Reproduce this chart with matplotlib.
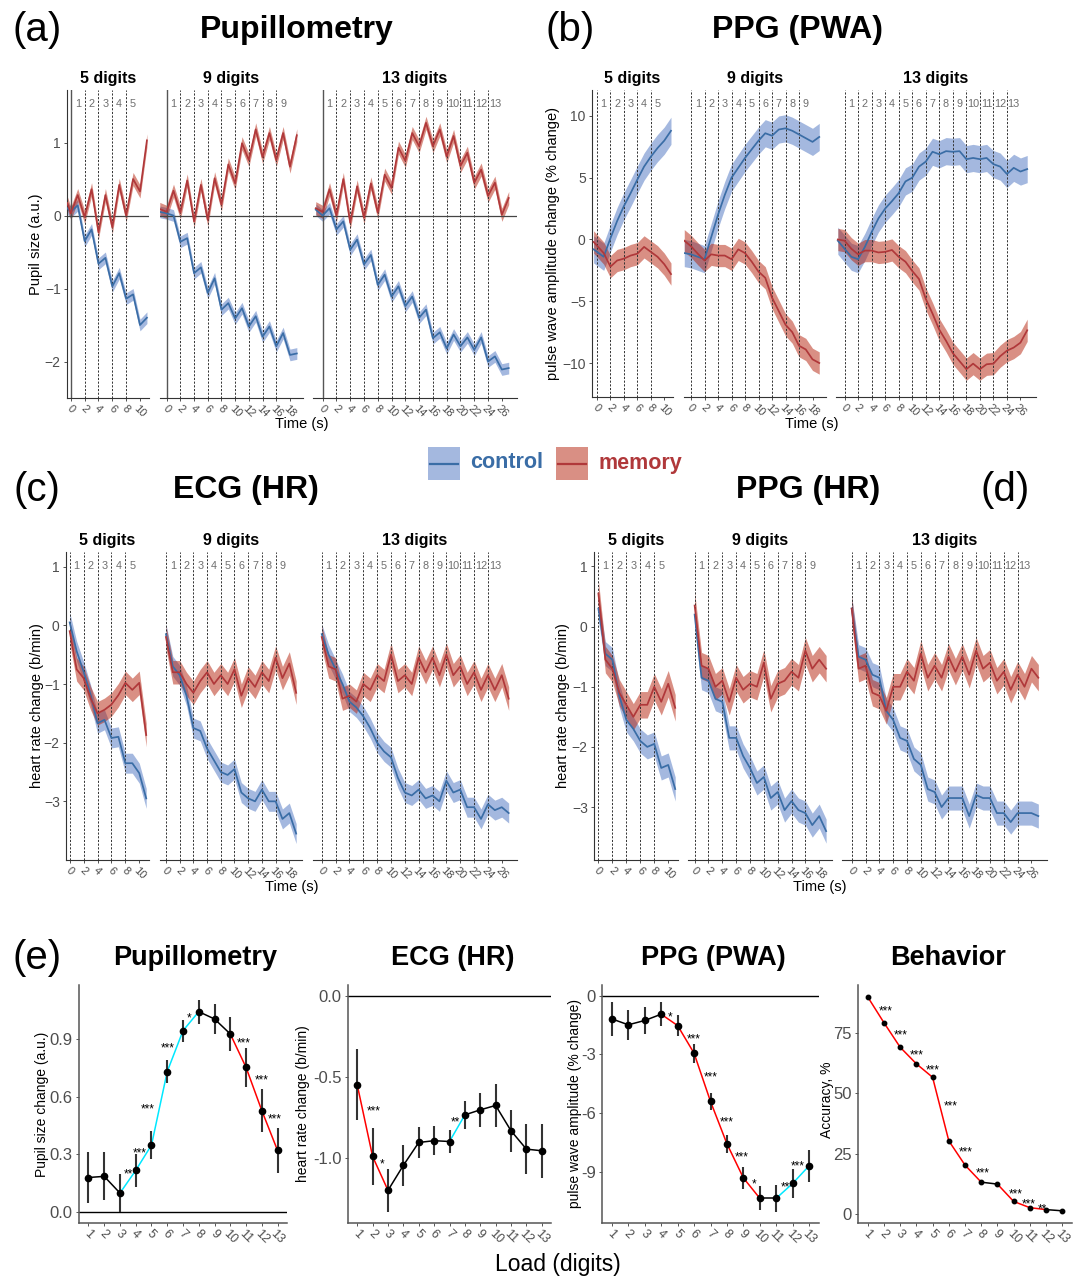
import numpy as np
import matplotlib
matplotlib.use('Agg')
import matplotlib.pyplot as plt
from matplotlib.transforms import blended_transform_factory
from matplotlib.patches import Rectangle
from matplotlib.lines import Line2D

plt.rcParams['font.family'] = ['Liberation Sans', 'DejaVu Sans']
plt.rcParams['axes.unicode_minus'] = True

W, H, DPI = 1078, 1278, 100

# ------------------------------------------------------------------ data
LOADS = [5, 9, 13]
CONDITIONS = ['control', 'memory']

# sample times (s)
t_pre5 = np.r_[-0.5, np.arange(0, 12)]
t_pre9 = np.arange(-1, 20)
t_pre13 = np.arange(-1, 28)
t_5 = np.arange(0, 12)
t_9 = np.arange(0, 20)
t_13 = np.arange(0, 28)

# (a) Pupillometry, pupil size (a.u.)
pup_ctrl_5 = [0.10, 0.05, 0.14, -0.35, -0.19, -0.66, -0.58, -0.97, -0.79, -1.14, -1.08, -1.50, -1.40]
pup_mem_5 = [0.17, 0.03, 0.28, -0.02, 0.36, -0.23, 0.28, -0.16, 0.42, 0.00, 0.50, 0.33, 1.03]
pup_ctrl_9 = [0.05, 0.03, 0.00, -0.36, -0.31, -0.79, -0.71, -1.06, -0.86, -1.29, -1.20, -1.41, -1.27,
              -1.52, -1.38, -1.66, -1.52, -1.79, -1.61, -1.91, -1.89]
pup_mem_9 = [0.09, 0.05, 0.34, 0.04, 0.48, -0.08, 0.42, -0.06, 0.51, 0.15, 0.70, 0.44, 0.99, 0.76,
             1.18, 0.80, 1.13, 0.76, 1.13, 0.67, 1.10]
pup_ctrl_13 = [0.08, 0.00, 0.10, -0.19, -0.08, -0.47, -0.33, -0.67, -0.54, -0.95, -0.81, -1.11, -0.97,
               -1.24, -1.11, -1.40, -1.29, -1.68, -1.60, -1.82, -1.63, -1.79, -1.67, -1.84, -1.67,
               -2.00, -1.93, -2.11, -2.09]
pup_mem_13 = [0.10, 0.05, 0.36, 0.00, 0.50, -0.10, 0.40, -0.03, 0.44, 0.04, 0.56, 0.38, 0.93, 0.75,
              1.13, 0.95, 1.27, 0.95, 1.18, 0.81, 1.09, 0.68, 0.86, 0.45, 0.63, 0.27, 0.45, 0.01, 0.24]
pup_se = [0.08, 0.09]

# (b) PPG pulse wave amplitude change (%)
pwa_ctrl_5 = [-0.8, -1.0, -1.4, 0.1, 1.5, 2.7, 3.75, 4.85, 5.9, 6.7, 7.4, 8.0, 8.8]
pwa_mem_5 = [-0.2, -0.5, -1.1, -2.2, -1.7, -1.55, -1.3, -1.15, -0.6, -1.0, -1.4, -2.0, -2.8]
pwa_ctrl_9 = [-1.1, -1.2, -1.4, -1.6, 0.2, 2.0, 3.6, 5.0, 5.8, 6.6, 7.3, 8.0, 8.6, 8.4, 8.9, 9.0,
              8.8, 8.5, 8.2, 7.9, 8.3]
pwa_mem_9 = [-0.1, -0.55, -1.15, -1.7, -1.2, -1.3, -1.3, -1.6, -0.8, -1.1, -1.8, -2.6, -3.1, -4.7,
             -5.8, -6.9, -7.5, -8.6, -8.9, -9.7, -10.0]
pwa_ctrl_13 = [-0.1, -0.75, -1.4, -1.6, -0.6, 0.6, 1.7, 2.5, 3.1, 3.75, 4.7, 5.0, 5.9, 6.3, 7.1, 6.9,
               7.15, 7.1, 7.15, 6.5, 6.6, 6.5, 6.6, 6.1, 5.9, 5.3, 5.8, 5.5, 5.7]
pwa_mem_13 = [0.0, -0.1, -0.75, -1.2, -0.9, -0.9, -1.05, -1.0, -0.85, -1.4, -1.8, -2.55, -3.2, -4.8,
              -6.0, -7.3, -8.2, -9.2, -9.85, -10.5, -10.05, -10.5, -10.1, -10.05, -9.45, -9.0,
              -8.75, -8.35, -7.35]
pwa_se = [1.1, 0.9]

# (c) ECG heart rate change (b/min)
ecg_ctrl_5 = [0.05, -0.44, -0.79, -1.18, -1.67, -1.61, -1.92, -1.90, -2.35, -2.35, -2.52, -2.95]
ecg_mem_5 = [-0.10, -0.75, -0.90, -1.24, -1.50, -1.44, -1.35, -1.19, -0.98, -1.10, -0.98, -1.87]
ecg_ctrl_9 = [-0.15, -0.70, -0.85, -1.20, -1.75, -1.80, -2.10, -2.30, -2.50, -2.55, -2.45, -2.85,
              -2.95, -3.00, -2.80, -3.00, -3.00, -3.30, -3.20, -3.55]
ecg_mem_9 = [-0.20, -0.80, -0.80, -1.00, -1.15, -0.95, -0.80, -1.00, -0.85, -1.00, -0.75, -1.20,
             -0.90, -1.05, -0.80, -0.95, -0.55, -0.90, -0.65, -1.15]
ecg_ctrl_13 = [-0.15, -0.50, -0.75, -1.00, -1.30, -1.40, -1.55, -1.75, -2.00, -2.15, -2.25, -2.60,
               -2.85, -2.90, -2.80, -2.95, -2.90, -3.00, -2.65, -2.85, -2.80, -3.10, -3.10, -3.30,
               -3.05, -3.15, -3.10, -3.20]
ecg_mem_13 = [-0.20, -0.70, -0.75, -1.25, -1.20, -1.30, -1.00, -1.10, -0.85, -0.95, -0.50, -0.95,
              -0.85, -1.00, -0.55, -0.80, -0.55, -0.85, -0.50, -0.85, -0.70, -1.00, -0.80, -1.10,
              -0.85, -1.10, -0.85, -1.25]
ecg_se = [0.17, 0.2]

# (d) PPG heart rate change (b/min)
ppghr_ctrl_5 = [0.30, -0.45, -0.55, -1.15, -1.55, -1.70, -1.90, -2.00, -1.95, -2.35, -2.30, -2.70]
ppghr_mem_5 = [0.55, -0.55, -0.70, -1.10, -1.30, -1.50, -1.30, -1.30, -1.00, -1.25, -0.95, -1.35]
ppghr_ctrl_9 = [0.20, -0.85, -0.90, -1.20, -1.25, -1.85, -1.85, -2.15, -2.35, -2.60, -2.50, -2.85,
                -2.75, -3.05, -2.90, -3.05, -3.10, -3.30, -3.15, -3.40]
ppghr_mem_9 = [0.35, -0.65, -0.70, -1.00, -0.90, -1.25, -0.85, -1.05, -0.95, -1.00, -0.60, -1.20,
               -0.95, -0.90, -0.75, -0.85, -0.40, -0.70, -0.55, -0.70]
ppghr_ctrl_13 = [0.30, -0.50, -0.55, -0.80, -0.85, -1.40, -1.55, -1.85, -1.90, -2.20, -2.30, -2.70,
                 -2.75, -3.00, -2.85, -2.85, -2.85, -3.15, -2.80, -2.85, -2.85, -3.10, -3.10, -3.25,
                 -3.10, -3.10, -3.10, -3.15]
ppghr_mem_13 = [0.30, -0.70, -0.65, -1.10, -1.15, -1.40, -1.00, -1.00, -0.75, -0.90, -0.45, -0.85,
                -0.65, -0.85, -0.50, -0.75, -0.50, -0.80, -0.40, -0.70, -0.60, -0.90, -0.75, -1.05,
                -0.80, -1.00, -0.70, -0.85]
ppghr_se = [0.2, 0.22]

# (e) per-load summaries
LOAD = np.arange(1, 14)
e_pup_mean = [0.180, 0.186, 0.099, 0.217, 0.349, 0.732, 0.945, 1.044, 1.006, 0.928, 0.754, 0.529, 0.321]
e_pup_err = [0.135, 0.125, 0.100, 0.085, 0.075, 0.060, 0.058, 0.062, 0.078, 0.089, 0.103, 0.112, 0.117]
e_pup_seg = 'kkccccckkrrr'
e_pup_sig_x = [3.51, 4.25, 4.78, 6.03, 7.38, 10.85, 11.97, 12.85]
e_pup_sig_y = [0.217, 0.324, 0.555, 0.874, 1.03, 0.90, 0.704, 0.50]
e_pup_sig = ['**', '***', '***', '***', '*', '***', '***', '***']

e_ecg_mean = [-0.549, -0.990, -1.199, -1.045, -0.904, -0.893, -0.898, -0.734, -0.703, -0.676, -0.832, -0.945, -0.955]
e_ecg_err = [0.219, 0.176, 0.133, 0.128, 0.098, 0.088, 0.072, 0.087, 0.103, 0.131, 0.129, 0.154, 0.166]
e_ecg_seg = 'rrkkkkckkkkk'
e_ecg_sig_x = [2.10, 2.63, 7.36]
e_ecg_sig_y = [-0.689, -1.016, -0.76]
e_ecg_sig = ['***', '*', '**']

e_pwa_mean = [-1.19, -1.49, -1.27, -0.95, -1.53, -2.94, -5.40, -7.56, -9.30, -10.34, -10.34, -9.58, -8.68]
e_pwa_err = [0.85, 0.77, 0.68, 0.62, 0.54, 0.48, 0.45, 0.47, 0.55, 0.61, 0.69, 0.75, 0.81]
e_pwa_seg = 'kkkrrrrrrkcc'
e_pwa_sig_x = [4.52, 5.98, 6.99, 7.98, 8.89, 9.64, 11.68, 12.29]
e_pwa_sig_y = [-0.95, -2.05, -4.0, -6.3, -8.08, -9.44, -9.59, -8.54]
e_pwa_sig = ['*', '***', '***', '***', '***', '*', '***', '***']

e_acc_mean = [90.1, 79.4, 69.2, 62.3, 56.7, 30.3, 20.2, 13.1, 12.3, 5.1, 2.5, 1.7, 1.2]
e_acc_err = [0.6, 0.7, 0.8, 0.8, 0.8, 0.9, 0.7, 0.6, 0.6, 0.5, 0.4, 0.3, 0.3]
e_acc_seg = 'rrrrrrrkrrrk'
e_acc_sig_x = [2.11, 3.03, 4.02, 5.02, 6.13, 7.05, 8.08, 10.1, 10.9, 11.75]
e_acc_sig_y = [85.4, 75.7, 67.2, 61.2, 45.9, 27.0, 18.3, 9.7, 5.5, 3.3]
e_acc_sig = ['***', '***', '***', '***', '***', '***', '***', '***', '***', '**']

# ------------------------------------------------------------------ style
CTRL_LINE, MEM_LINE = '#3A6DA6', '#B0383A'
CTRL_FILL, MEM_FILL = '#4A72C0', '#B4200A'
SEGC = {'k': 'black', 'c': '#00E8FF', 'r': '#FF0000'}
GRAY_TXT = '#4D4D4D'

fig = plt.figure(figsize=(W / DPI, H / DPI), dpi=DPI)


def add_ax(l, t, r, b):
    return fig.add_axes([l / W, 1 - b / H, (r - l) / W, (b - t) / H])


def ftext(x, y, s, **kw):
    kw.setdefault('ha', 'center')
    kw.setdefault('va', 'center')
    fig.text(x / W, 1 - y / H, s, **kw)


def ts_panel(boxes, top, bottom, xlims, ylim, yticks, series, se, solid_zero, hline):
    for i, n in enumerate(LOADS):
        l, r = boxes[i]
        ax = add_ax(l, top, r, bottom)
        t, c, m = series[i]
        t = np.asarray(t, float)
        c = np.asarray(c, float)
        m = np.asarray(m, float)
        ax.fill_between(t, c - se[0], c + se[0], color=CTRL_FILL, alpha=0.5, lw=0, zorder=1)
        ax.fill_between(t, m - se[1], m + se[1], color=MEM_FILL, alpha=0.5, lw=0, zorder=1)
        tr = blended_transform_factory(ax.transData, ax.transAxes)
        for k in range(n):
            if k == 0 and solid_zero:
                ax.axvline(0, color='#555555', lw=1.0, zorder=2)
            else:
                ax.axvline(2 * k, color='#333333', lw=0.7, ls=(0, (2.2, 1.6)), zorder=2)
            ax.text(2 * k + 1, 0.955, str(k + 1), transform=tr, ha='center', va='center',
                    fontsize=7.8, color='#6E6E6E')
        if hline:
            ax.axhline(0, color='#444444', lw=0.9, zorder=2)
        ax.plot(t, c, color=CTRL_LINE, lw=1.25, zorder=3)
        ax.plot(t, m, color=MEM_LINE, lw=1.25, zorder=3)
        ax.set_xlim(xlims[i])
        ax.set_ylim(ylim)
        ax.set_xticks(np.arange(0, 2 * n + 1, 2))
        ax.set_yticks(yticks)
        for s in ('top', 'right'):
            ax.spines[s].set_visible(False)
        ax.spines['bottom'].set_color('#333333')
        ax.spines['bottom'].set_linewidth(0.8)
        ax.spines['left'].set_color('#333333')
        ax.spines['left'].set_linewidth(0.8)
        ax.tick_params(axis='x', labelsize=8, labelcolor=GRAY_TXT, length=2.5, width=0.6,
                       color='#333333', pad=1, labelrotation=-45)
        for lab in ax.get_xticklabels():
            lab.set_ha('center')
            lab.set_va('top')
        if i == 0:
            ax.tick_params(axis='y', labelsize=10, labelcolor=GRAY_TXT, length=2.5, width=0.6,
                           color='#333333', pad=2)
        else:
            ax.spines['left'].set_visible(False)
            ax.tick_params(axis='y', left=False, labelleft=False)
        ax.patch.set_alpha(0)
        ftext((l + r) / 2, top - 11, f'{n} digits', fontsize=11.5, fontweight='bold')


# (a)
ftext(37, 30, '(a)', fontsize=29)
ftext(297, 30, 'Pupillometry', fontsize=23, fontweight='bold')
ts_panel([(67, 149), (160, 303), (313, 517)], 90, 398,
         [(-0.55, 11.3), (-0.97, 19.9), (-1.4, 28.2)], (-2.5, 1.72), [-2, -1, 0, 1],
         [(t_pre5, pup_ctrl_5, pup_mem_5), (t_pre9, pup_ctrl_9, pup_mem_9),
          (t_pre13, pup_ctrl_13, pup_mem_13)], pup_se, True, True)
ftext(36, 244, 'Pupil size (a.u.)', fontsize=10.5, rotation=90)
ftext(302, 424, 'Time (s)', fontsize=10.5)

# (b)
ftext(570, 30, '(b)', fontsize=29)
ftext(798, 30, 'PPG (PWA)', fontsize=23, fontweight='bold')
ts_panel([(592, 673), (684, 826), (836, 1036)], 90, 397,
         [(-0.74, 11.3), (-1.04, 20.0), (-1.27, 28.3)], (-12.75, 12.1), [-10, -5, 0, 5, 10],
         [(t_pre5, pwa_ctrl_5, pwa_mem_5), (t_pre9, pwa_ctrl_9, pwa_mem_9),
          (t_pre13, pwa_ctrl_13, pwa_mem_13)], pwa_se, False, False)
ftext(553, 243, 'pulse wave amplitude change (% change)', fontsize=10.5, rotation=90)
ftext(812, 424, 'Time (s)', fontsize=10.5)

# legend
for (x0, cond, lc, fc) in [(428, CONDITIONS[0], CTRL_LINE, CTRL_FILL), (556, CONDITIONS[1], MEM_LINE, MEM_FILL)]:
    fig.add_artist(Rectangle((x0 / W, 1 - 480 / H), 32 / W, 33 / H, transform=fig.transFigure,
                             facecolor=fc, alpha=0.5, lw=0))
    fig.add_artist(Line2D([(x0 + 2) / W, (x0 + 30) / W], [1 - 463.5 / H] * 2, transform=fig.transFigure,
                          color=lc, lw=1.6))
    ftext(x0 + 42, 463, cond, fontsize=15.5, fontweight='bold', color=lc, ha='left')

# (c)
ftext(37, 490, '(c)', fontsize=29)
ftext(246, 490, 'ECG (HR)', fontsize=23, fontweight='bold')
ts_panel([(66, 149), (160, 302), (313, 517)], 552, 860,
         [(-0.53, 11.4), (-0.87, 19.85), (-1.26, 28.2)], (-4.0, 1.25), [-3, -2, -1, 0, 1],
         [(t_5, ecg_ctrl_5, ecg_mem_5), (t_9, ecg_ctrl_9, ecg_mem_9),
          (t_13, ecg_ctrl_13, ecg_mem_13)], ecg_se, False, False)
ftext(37, 706, 'heart rate change (b/min)', fontsize=10.5, rotation=90)
ftext(292, 887, 'Time (s)', fontsize=10.5)

# (d)
ftext(1005, 490, '(d)', fontsize=29)
ftext(808, 490, 'PPG (HR)', fontsize=23, fontweight='bold')
ts_panel([(594, 678), (688, 832), (842, 1047)], 552, 860,
         [(-0.63, 11.4), (-0.96, 19.85), (-1.4, 28.25)], (-3.88, 1.24), [-3, -2, -1, 0, 1],
         [(t_5, ppghr_ctrl_5, ppghr_mem_5), (t_9, ppghr_ctrl_9, ppghr_mem_9),
          (t_13, ppghr_ctrl_13, ppghr_mem_13)], ppghr_se, False, False)
ftext(563, 706, 'heart rate change (b/min)', fontsize=10.5, rotation=90)
ftext(820, 887, 'Time (s)', fontsize=10.5)


# (e)
def load_panel(lr, mean, err, seg, sx, sy, stxt, ylim, yticks, ylabels, hline, ms):
    ax = add_ax(lr[0], 985, lr[1], 1223)
    mean = np.asarray(mean, float)
    if hline:
        ax.axhline(0, color='black', lw=1.0, zorder=1)
    for i in range(len(LOAD) - 1):
        ax.plot(LOAD[i:i + 2], mean[i:i + 2], color=SEGC[seg[i]], lw=1.1, zorder=2)
    ax.errorbar(LOAD, mean, yerr=err, fmt='none', ecolor='#333333', elinewidth=1.5, capsize=0, zorder=3)
    ax.plot(LOAD, mean, 'o', color='black', ms=ms, zorder=4)
    for x, y, s in zip(sx, sy, stxt):
        ax.annotate(s, (x, y), xytext=(0, -4.8), textcoords='offset points', ha='center',
                    va='baseline', fontsize=8.5, zorder=5)
    ax.set_xlim(0.4, 13.6)
    ax.set_ylim(ylim)
    ax.set_xticks(LOAD)
    ax.set_yticks(yticks)
    ax.set_yticklabels(ylabels)
    for s in ('top', 'right'):
        ax.spines[s].set_visible(False)
    for s in ('left', 'bottom'):
        ax.spines[s].set_color('#555555')
        ax.spines[s].set_linewidth(1.1)
    ax.tick_params(axis='x', labelsize=9, labelcolor=GRAY_TXT, length=2.5, width=0.7,
                   color='#555555', pad=1, labelrotation=-45)
    for lab in ax.get_xticklabels():
        lab.set_ha('center')
        lab.set_va('top')
    ax.tick_params(axis='y', labelsize=12, labelcolor=GRAY_TXT, length=2.5, width=0.7,
                   color='#555555', pad=2)
    ax.patch.set_alpha(0)
    return ax


ftext(37, 958, '(e)', fontsize=29)
load_panel((79, 287), e_pup_mean, e_pup_err, e_pup_seg, e_pup_sig_x, e_pup_sig_y, e_pup_sig,
           (-0.057, 1.183), [0.0, 0.3, 0.6, 0.9], ['0.0', '0.3', '0.6', '0.9'], True, 4.5)
load_panel((348, 551), e_ecg_mean, e_ecg_err, e_ecg_seg, e_ecg_sig_x, e_ecg_sig_y, e_ecg_sig,
           (-1.40, 0.066), [-1.0, -0.5, 0.0], ['-1.0', '-0.5', '0.0'], True, 4.5)
load_panel((602, 819), e_pwa_mean, e_pwa_err, e_pwa_seg, e_pwa_sig_x, e_pwa_sig_y, e_pwa_sig,
           (-11.6, 0.54), [-9, -6, -3, 0], ['-9', '-6', '-3', '0'], True, 4.5)
load_panel((858, 1072), e_acc_mean, e_acc_err, e_acc_seg, e_acc_sig_x, e_acc_sig_y, e_acc_sig,
           (-3.87, 95.06), [0, 25, 50, 75], ['0', '25', '50', '75'], False, 3.2)

ftext(195, 958, 'Pupillometry', fontsize=19.5, fontweight='bold')
ftext(453, 958, 'ECG (HR)', fontsize=19.5, fontweight='bold')
ftext(713, 958, 'PPG (PWA)', fontsize=19.5, fontweight='bold')
ftext(948, 958, 'Behavior', fontsize=19.5, fontweight='bold')
ftext(42, 1104, 'Pupil size change (a.u.)', fontsize=10, rotation=90)
ftext(303, 1104, 'heart rate change (b/min)', fontsize=10, rotation=90)
ftext(575, 1104, 'pulse wave amplitude (% change)', fontsize=10, rotation=90)
ftext(827, 1100, 'Accuracy, %', fontsize=10, rotation=90)
ftext(558, 1264, 'Load (digits)', fontsize=16.5)

fig.savefig('out.png', dpi=DPI, facecolor='white')
